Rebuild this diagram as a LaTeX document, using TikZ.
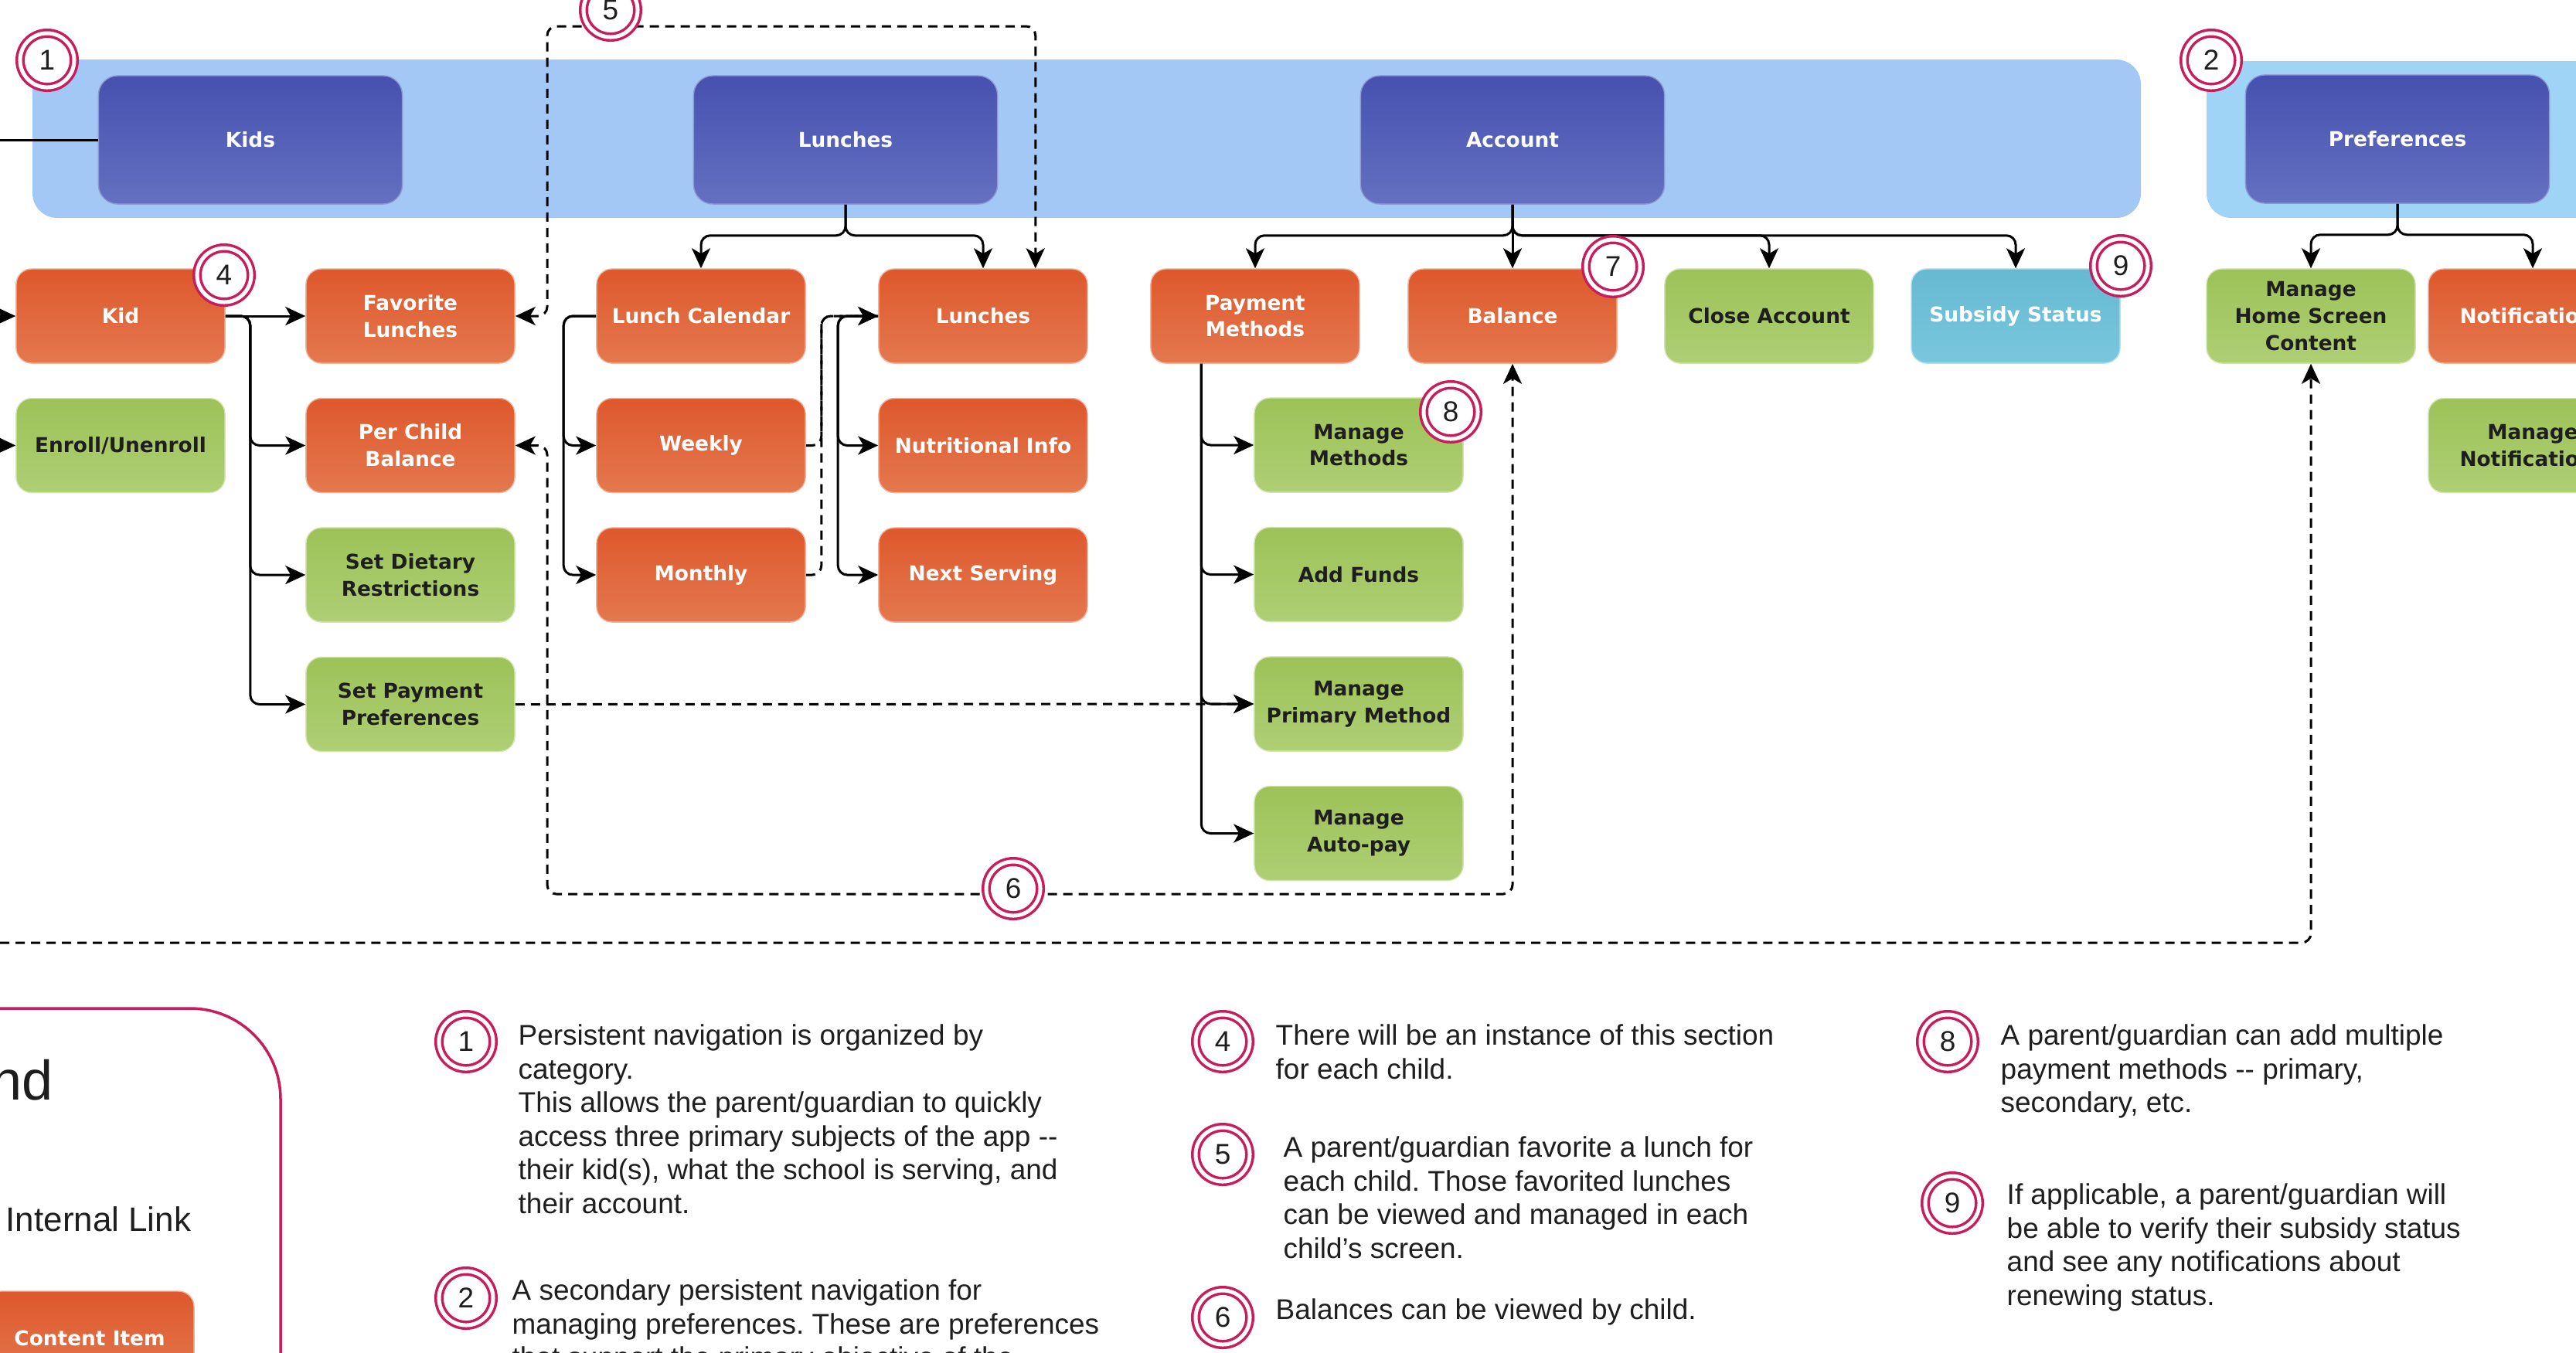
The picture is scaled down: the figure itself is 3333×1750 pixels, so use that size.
\documentclass[tikz,border=0pt]{standalone}
\usepackage{fontspec}
\setmainfont{Liberation Sans}
\newfontfamily\boxfont{DejaVu Sans}
\usepackage{tikz}
\usetikzlibrary{arrows.meta, positioning}
\frenchspacing

\definecolor{navtop}{RGB}{70,81,176}
\definecolor{navbot}{RGB}{100,112,192}
\definecolor{orgtop}{RGB}{222,88,44}
\definecolor{orgbot}{RGB}{228,120,78}
\definecolor{grntop}{RGB}{157,194,88}
\definecolor{grnbot}{RGB}{174,207,116}
\definecolor{cyntop}{RGB}{102,185,210}
\definecolor{cynbot}{RGB}{120,199,221}
\definecolor{bandblue}{RGB}{164,200,246}
\definecolor{bandcyan}{RGB}{160,212,247}
\definecolor{ringred}{RGB}{200,28,92}
\definecolor{notetext}{RGB}{30,30,30}

\tikzset{
  boxtext/.style={font=\boxfont\bfseries\fontsize{7.5pt}{9.9pt}\selectfont, align=center},
  navbox/.style={boxtext, rectangle, rounded corners=0.25cm, minimum width=3.93cm, minimum height=1.66cm,
    top color=navtop, bottom color=navbot, draw=navtop!60!white, line width=0.4pt, text=white},
  item/.style={boxtext, rectangle, rounded corners=0.2cm, minimum width=2.7cm, minimum height=1.22cm, line width=0.4pt},
  redbox/.style={item, top color=orgtop, bottom color=orgbot, draw=orgbot!55!white, text=white},
  greenbox/.style={item, top color=grntop, bottom color=grnbot, draw=grnbot!55!white, text=notetext},
  cyanbox/.style={item, top color=cyntop, bottom color=cynbot, draw=cynbot!55!white, text=white},
  link/.style={line width=0.03cm, rounded corners=0.12cm},
  internal/.style={link, dash pattern=on 0.12cm off 0.08cm},
  badge/.style={circle, draw=ringred, double=white, double distance=0.05cm, line width=0.035cm, fill=white,
    minimum size=0.7cm, inner sep=0pt, text=notetext, font=\fontsize{10.5pt}{12pt}\selectfont},
  note/.style={anchor=north west, align=left, inner sep=0pt, text=notetext, font=\fontsize{10.5pt}{12.4pt}\selectfont}
}

\begin{document}
\begin{tikzpicture}[x=0.01cm, y=-0.01cm, node distance=0.44cm, >={Stealth[length=0.26cm, width=0.24cm, inset=0.07cm]}]
  \useasboundingbox (0,0) rectangle (3333,1750);
  \clip (0,0) rectangle (3333,1750);

  % navigation bands
  \fill[bandblue, rounded corners=0.32cm] (42,77) rectangle (2770,282);
  \fill[bandcyan, rounded corners=0.32cm] (2855,79) rectangle (3420,282);

  % top level navigation
  \node[navbox] (navkids) at (324,181) {Kids};
  \node[navbox] (navlunch) at (1094,181) {Lunches};
  \node[navbox] (navacct) at (1957,181) {Account};
  \node[navbox] (navpref) at (3102,180) {Preferences};

  % kid section
  \node[redbox] (kid) at (156,409) {Kid};
  \node[greenbox, below = of kid] (enroll) {Enroll/Unenroll};
  \node[redbox] (favlunch) at (531,409) {Favorite\\Lunches};
  \node[redbox, below = of favlunch] (childbal) {Per Child\\Balance};
  \node[greenbox, below = of childbal] (dietary) {Set Dietary\\Restrictions};
  \node[greenbox, below = of dietary] (payprefs) {Set Payment\\Preferences};

  % lunches section
  \node[redbox] (calendar) at (907,409) {Lunch Calendar};
  \node[redbox, below = of calendar] (weekly) {Weekly};
  \node[redbox, below = of weekly] (monthly) {Monthly};
  \node[redbox] (lunches) at (1272,409) {Lunches};
  \node[redbox, below = of lunches] (nutrition) {Nutritional Info};
  \node[redbox, below = of nutrition] (nextserve) {Next Serving};

  % account section
  \node[redbox] (paymethods) at (1624,409) {Payment\\Methods};
  \node[redbox] (balance) at (1957,409) {Balance};
  \node[greenbox] (closeacct) at (2289,409) {Close Account};
  \node[cyanbox] (subsidy) at (2608,409) {Subsidy Status};
  \node[greenbox] (managemeth) at (1758,576) {Manage\\Methods};
  \node[greenbox, below = of managemeth] (addfunds) {Add Funds};
  \node[greenbox, below = of addfunds] (primary) {Manage\\Primary Method};
  \node[greenbox, below = of primary] (autopay) {Manage\\Auto-pay};

  % preferences section
  \node[greenbox] (homescreen) at (2990,409) {Manage\\Home Screen\\Content};
  \node[redbox] (notify) at (3277,409) {Notifications};
  \node[greenbox, below = of notify] (managenotify) {Manage\\Notifications};

  % links from off the page
  \coordinate (offnav) at (-20,181);
  \coordinate (offkid) at (-20,409);
  \coordinate (offenroll) at (-20,576);
  \draw[link] (offnav) -- (navkids.west);
  \draw[link,->] (offkid) -- (kid.west);
  \draw[link,->] (offenroll) -- (enroll.west);

  % navigation links
  \draw[link,->] (navlunch.south) -- ++(0,40) -| (calendar.north);
  \draw[link,->] (navlunch.south) -- ++(0,40) -| (lunches.north);
  \draw[link,->] (navacct.south) -- (balance.north);
  \foreach \child in {paymethods, closeacct, subsidy}
    \draw[link,->] (navacct.south) -- ++(0,40) -| (\child.north);
  \foreach \child in {homescreen, notify}
    \draw[link,->] (navpref.south) -- ++(0,40) -| (\child.north);

  \draw[link,->] (kid.east) -- (favlunch.west);
  \foreach \child in {childbal, dietary, payprefs}
    \draw[link,->] (kid.east) -- ++(32,0) |- (\child.west);
  \foreach \child in {weekly, monthly}
    \draw[link,->] (calendar.west) -- ++(-42,0) |- (\child.west);
  \foreach \child in {nutrition, nextserve}
    \draw[link,->] (lunches.west) -- ++(-52,0) |- (\child.west);
  \foreach \child in {weekly, monthly}
    \draw[internal,->] (\child.east) -- ++(20,0) |- (lunches.west);
  \foreach \child in {managemeth, addfunds, primary, autopay}
    \draw[link,->] ([xshift=0.66cm]paymethods.south west) |- (\child.west);

  % internal links
  \draw[internal,->] (payprefs.east) -- (primary.west);
  \coordinate (favbend) at (708,34);
  \draw[internal,<->] (favlunch.east) -| (favbend) -| ([xshift=-0.68cm]lunches.north east);
  \coordinate (balbend) at (708,1157);
  \draw[internal,<->] (childbal.east) -| (balbend) -| (balance.south);
  \coordinate (offpref) at (-20,1220);
  \draw[internal,->] (offpref) -| (homescreen.south);

  % numbered marks
  \node[badge] (tag1) at (61,78) {1};
  \node[badge] (tag2) at (2861,78) {2};
  \node[badge] (tag4) at (290,356) {4};
  \node[badge] (tag5) at (790,13) {5};
  \node[badge] (tag6) at (1311,1150) {6};
  \node[badge] (tag7) at (2087,345) {7};
  \node[badge] (tag8) at (1877,533) {8};
  \node[badge] (tag9) at (2744,344) {9};

  % legend
  \draw[ringred, line width=0.035cm, rounded corners=1.17cm] (-300,1305) rectangle (363,1950);
  \node[anchor=base east, inner sep=0pt, text=notetext, font=\fontsize{20.5pt}{24pt}\selectfont] (legendtitle) at (69,1423) {Legend};
  \node[anchor=base west, inner sep=0pt, text=notetext, font=\fontsize{12.5pt}{15pt}\selectfont] (linklabel) at (7,1593) {Internal Link};
  \node[redbox] (sample) at (116,1732) {Content Item};

  % notes
  \node[badge] (key1) at (603,1348) {1};
  \node[note] (text1) at (670,1325) {Persistent navigation is organized by\\category.\\This allows the parent/guardian to quickly\\access three primary subjects of the app -{}-\\their kid(s), what the school is serving, and\\their account.};
  \node[badge] (key2) at (603,1680) {2};
  \node[note] (text2) at (662,1655) {A secondary persistent navigation for\\managing preferences. These are preferences\\that support the primary objective of the};
  \node[badge] (key4) at (1582,1348) {4};
  \node[note] (text4) at (1650,1325) {There will be an instance of this section\\for each child.};
  \node[badge] (key5) at (1582,1494) {5};
  \node[note] (text5) at (1660,1470) {A parent/guardian favorite a lunch for\\each child. Those favorited lunches\\can be viewed and managed in each\\child's screen.};
  \node[badge] (key6) at (1582,1705) {6};
  \node[note] (text6) at (1650,1680) {Balances can be viewed by child.};
  \node[badge] (key8) at (2520,1348) {8};
  \node[note] (text8) at (2588,1325) {A parent/guardian can add multiple\\payment methods -{}- primary,\\secondary, etc.};
  \node[badge] (key9) at (2526,1557) {9};
  \node[note] (text9) at (2596,1531) {If applicable, a parent/guardian will\\be able to verify their subsidy status\\and see any notifications about\\renewing status.};
\end{tikzpicture}
\end{document}
